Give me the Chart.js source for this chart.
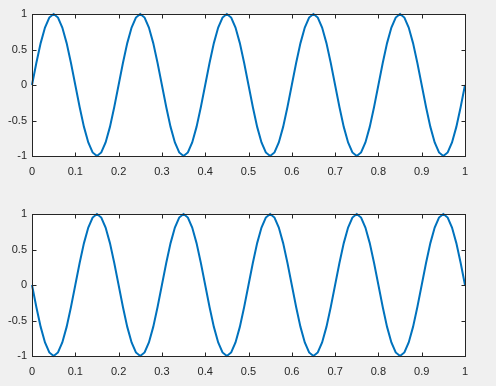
<!DOCTYPE html>
<html>
<head>
<meta charset="utf-8">
<script src="https://cdn.jsdelivr.net/npm/chart.js@4"></script>
<style>
  html, body { margin: 0; padding: 0; background: #f0f0f0; }
  .panel { position: absolute; left: 0; width: 496px; }
  #p1 { top: 0; height: 190px; }
  #p2 { top: 190px; height: 196px; }
</style>
</head>
<body>
<div class="panel" id="p1"><canvas id="topChart"></canvas></div>
<div class="panel" id="p2"><canvas id="bottomChart"></canvas></div>
<script>
// x = 0:0.01:1
const tValues = [
  0, 0.01, 0.02, 0.03, 0.04, 0.05, 0.06, 0.07, 0.08, 0.09,
  0.10, 0.11, 0.12, 0.13, 0.14, 0.15, 0.16, 0.17, 0.18, 0.19,
  0.20, 0.21, 0.22, 0.23, 0.24, 0.25, 0.26, 0.27, 0.28, 0.29,
  0.30, 0.31, 0.32, 0.33, 0.34, 0.35, 0.36, 0.37, 0.38, 0.39,
  0.40, 0.41, 0.42, 0.43, 0.44, 0.45, 0.46, 0.47, 0.48, 0.49,
  0.50, 0.51, 0.52, 0.53, 0.54, 0.55, 0.56, 0.57, 0.58, 0.59,
  0.60, 0.61, 0.62, 0.63, 0.64, 0.65, 0.66, 0.67, 0.68, 0.69,
  0.70, 0.71, 0.72, 0.73, 0.74, 0.75, 0.76, 0.77, 0.78, 0.79,
  0.80, 0.81, 0.82, 0.83, 0.84, 0.85, 0.86, 0.87, 0.88, 0.89,
  0.90, 0.91, 0.92, 0.93, 0.94, 0.95, 0.96, 0.97, 0.98, 0.99,
  1.00
];

// upper wave
const topValues = [
  0, 0.31, 0.59, 0.81, 0.95, 1, 0.95, 0.81, 0.59, 0.31,
  0, -0.31, -0.59, -0.81, -0.95, -1, -0.95, -0.81, -0.59, -0.31,
  0, 0.31, 0.59, 0.81, 0.95, 1, 0.95, 0.81, 0.59, 0.31,
  0, -0.31, -0.59, -0.81, -0.95, -1, -0.95, -0.81, -0.59, -0.31,
  0, 0.31, 0.59, 0.81, 0.95, 1, 0.95, 0.81, 0.59, 0.31,
  0, -0.31, -0.59, -0.81, -0.95, -1, -0.95, -0.81, -0.59, -0.31,
  0, 0.31, 0.59, 0.81, 0.95, 1, 0.95, 0.81, 0.59, 0.31,
  0, -0.31, -0.59, -0.81, -0.95, -1, -0.95, -0.81, -0.59, -0.31,
  0, 0.31, 0.59, 0.81, 0.95, 1, 0.95, 0.81, 0.59, 0.31,
  0, -0.31, -0.59, -0.81, -0.95, -1, -0.95, -0.81, -0.59, -0.31,
  0
];

// lower wave (starts going down)
const bottomValues = [
  0, -0.31, -0.59, -0.81, -0.95, -1, -0.95, -0.81, -0.59, -0.31,
  0, 0.31, 0.59, 0.81, 0.95, 1, 0.95, 0.81, 0.59, 0.31,
  0, -0.31, -0.59, -0.81, -0.95, -1, -0.95, -0.81, -0.59, -0.31,
  0, 0.31, 0.59, 0.81, 0.95, 1, 0.95, 0.81, 0.59, 0.31,
  0, -0.31, -0.59, -0.81, -0.95, -1, -0.95, -0.81, -0.59, -0.31,
  0, 0.31, 0.59, 0.81, 0.95, 1, 0.95, 0.81, 0.59, 0.31,
  0, -0.31, -0.59, -0.81, -0.95, -1, -0.95, -0.81, -0.59, -0.31,
  0, 0.31, 0.59, 0.81, 0.95, 1, 0.95, 0.81, 0.59, 0.31,
  0, -0.31, -0.59, -0.81, -0.95, -1, -0.95, -0.81, -0.59, -0.31,
  0, 0.31, 0.59, 0.81, 0.95, 1, 0.95, 0.81, 0.59, 0.31,
  0
];

const xTicks = [0, 0.1, 0.2, 0.3, 0.4, 0.5, 0.6, 0.7, 0.8, 0.9, 1];
const yTicks = [-1, -0.5, 0, 0.5, 1];

const axisColor = "#262626";
const lineColor = "#0072BD";
const tickFont = { family: "'Liberation Sans', Arial, sans-serif", size: 11 };

// white plot area + box + inward ticks on all four sides, like matlab
const matlabBox = {
  id: "matlabBox",
  beforeDraw(chart) {
    const { ctx, chartArea: a } = chart;
    ctx.save();
    ctx.fillStyle = "#ffffff";
    ctx.fillRect(a.left, a.top, a.right - a.left, a.bottom - a.top);
    ctx.restore();
  },
  afterDraw(chart) {
    const { ctx, chartArea: a } = chart;
    const xs = chart.scales.x;
    const ys = chart.scales.y;
    const len = 4;
    ctx.save();
    ctx.strokeStyle = axisColor;
    ctx.lineWidth = 1;
    ctx.beginPath();
    xTicks.forEach(v => {
      const px = Math.round(xs.getPixelForValue(v)) + 0.5;
      ctx.moveTo(px, a.bottom + 0.5);
      ctx.lineTo(px, a.bottom + 0.5 - len);
      ctx.moveTo(px, a.top + 0.5);
      ctx.lineTo(px, a.top + 0.5 + len);
    });
    yTicks.forEach(v => {
      const py = Math.round(ys.getPixelForValue(v)) + 0.5;
      ctx.moveTo(a.left + 0.5, py);
      ctx.lineTo(a.left + 0.5 + len, py);
      ctx.moveTo(a.right + 0.5, py);
      ctx.lineTo(a.right + 0.5 - len, py);
    });
    ctx.stroke();
    ctx.strokeRect(a.left + 0.5, a.top + 0.5, a.right - a.left, a.bottom - a.top);
    ctx.restore();
  },
};

function makeChart(canvasId, values, padTop, xAxisHeight) {
  const ctx = document.getElementById(canvasId).getContext("2d");
  return new Chart(ctx, {
    type: "line",
    data: {
      datasets: [
        {
          data: tValues.map((t, i) => ({ x: t, y: values[i] })),
          borderColor: lineColor,
          borderWidth: 2,
          pointRadius: 0,
          tension: 0,
          fill: false,
          clip: false,
        },
      ],
    },
    options: {
      responsive: true,
      maintainAspectRatio: false,
      animation: false,
      events: [],
      layout: { padding: { top: padTop, right: 31, bottom: 0, left: 0 } },
      plugins: { legend: { display: false }, tooltip: { enabled: false } },
      scales: {
        x: {
          type: "linear",
          min: 0,
          max: 1,
          afterBuildTicks: s => { s.ticks = xTicks.map(v => ({ value: v })); },
          afterFit: s => { s.height = xAxisHeight; },
          grid: { display: false, drawTicks: false },
          border: { display: false },
          ticks: {
            padding: 9,
            maxRotation: 0,
            autoSkip: false,
            color: axisColor,
            font: tickFont,
            callback: v => String(Number(v.toFixed(1))),
          },
        },
        y: {
          min: -1,
          max: 1,
          afterBuildTicks: s => { s.ticks = yTicks.map(v => ({ value: v })); },
          afterFit: s => { s.width = 32; },
          grid: { display: false, drawTicks: false },
          border: { display: false },
          ticks: {
            padding: 5,
            color: axisColor,
            font: tickFont,
            callback: v => String(v),
          },
        },
      },
    },
    plugins: [matlabBox],
  });
}

makeChart("topChart", topValues, 14, 34);
makeChart("bottomChart", bottomValues, 24, 30);
</script>
</body>
</html>
